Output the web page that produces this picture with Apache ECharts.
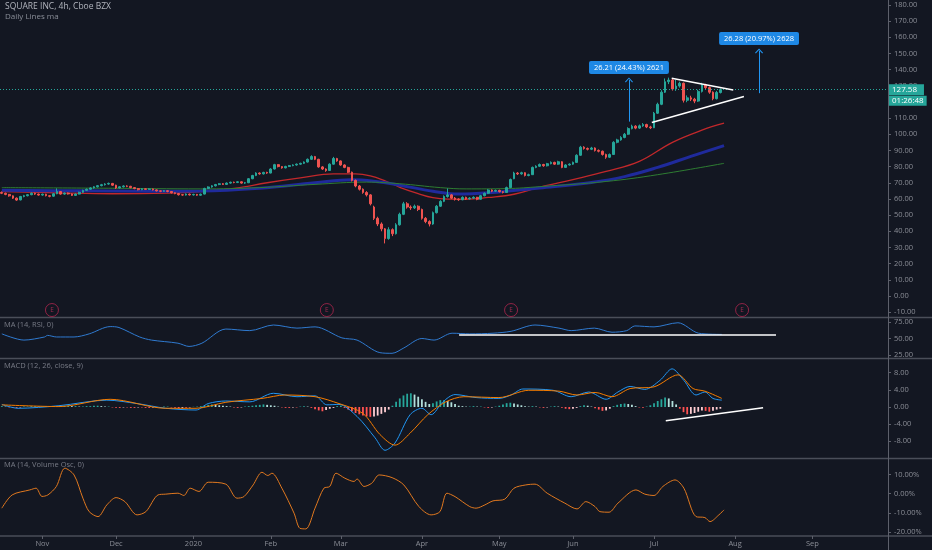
<!DOCTYPE html>
<html><head><meta charset="utf-8">
<script src="https://cdn.jsdelivr.net/npm/echarts@6/dist/echarts.min.js"></script>
<style>html,body{margin:0;padding:0;background:#131722;}#c{width:932px;height:550px;}</style>
</head><body><div id="c"></div>
<script>
// ---------- axis ticks ----------
const monthTickIdx = [11, 31, 52, 73, 92, 114, 135, 155, 177, 199, 220];
const monthLabels = ['Nov', 'Dec', '2020', 'Feb', 'Mar', 'Apr', 'May', 'Jun', 'Jul', 'Aug', 'Sep'];
const priceTicks = [-10, 0, 10, 20, 30, 40, 50, 60, 70, 80, 90, 100, 110, 120, 130, 140, 150, 160, 170, 180];
const rsiTicks = [25, 50, 75];
const macdTicks = [-8, -4, 0, 4, 8];
const oscTicks = [-20, -10, 0, 10];

// ---------- price candles: [open, close, low, high], one per trading day ----------
const candles = [
[64.0,63.5,63.0,64.6],[63.5,62.8,62.3,63.9],[62.8,61.9,61.4,63.1],[61.9,60.5,60.0,62.2],[60.5,59.3,58.8,60.9],
[59.4,61.5,59.1,61.9],[61.5,62.0,61.0,62.5],[62.0,62.6,61.6,63.0],[62.6,63.5,62.3,64.0],[63.5,63.0,62.5,63.9],
[63.0,62.4,62.0,63.3],[62.4,62.9,62.0,63.3],[62.9,62.0,61.6,63.2],[62.0,61.6,61.0,62.4],[61.7,63.2,61.4,63.6],
[63.2,64.6,62.9,66.5],[64.6,63.0,62.6,64.9],[63.0,63.6,62.6,64.0],[63.6,63.1,62.7,64.0],[63.1,62.2,61.8,63.4],
[62.2,63.0,61.9,63.4],[63.0,64.1,62.8,64.5],[64.1,65.3,63.8,65.7],[65.3,66.0,65.0,66.4],[66.0,66.8,65.6,67.2],
[66.8,67.5,66.4,67.9],[67.5,68.2,67.1,68.6],[68.2,68.8,67.8,69.3],[68.8,69.2,68.3,69.7],[69.2,69.6,68.8,70.1],
[69.6,68.5,68.1,69.9],[68.5,66.8,66.2,68.8],[66.8,67.5,66.5,67.9],[67.5,68.0,67.1,68.4],[68.0,67.8,67.3,68.4],
[67.8,67.0,66.6,68.1],[67.0,66.4,66.0,67.3],[66.4,65.7,65.3,66.7],[65.7,66.3,65.4,66.7],[66.3,65.9,65.5,66.6],
[65.9,66.2,65.6,66.6],[66.2,65.6,65.2,66.4],[65.6,65.0,64.6,65.9],[65.0,64.7,64.2,65.3],[64.7,65.1,64.4,65.5],
[65.1,64.6,64.1,65.4],[64.6,63.8,63.4,64.9],[63.8,63.3,62.9,64.1],[63.3,62.6,62.1,63.6],[62.6,62.4,62.0,62.9],
[62.4,63.0,62.1,63.4],[63.0,62.5,62.1,63.3],[62.5,62.8,62.1,63.2],[62.8,62.3,61.9,63.1],[62.3,62.9,62.0,63.3],
[63.0,66.5,62.8,66.9],[66.5,67.4,66.1,67.8],[67.4,68.1,67.0,68.5],[68.1,68.9,67.7,69.3],[68.9,69.4,68.5,69.8],
[69.4,69.0,68.6,69.8],[69.0,69.8,68.7,70.2],[69.8,70.3,69.4,70.7],[70.3,70.2,69.7,70.7],[70.2,70.6,69.8,71.0],
[70.6,69.8,69.4,70.9],[69.8,70.0,69.3,70.5],[70.0,72.5,69.8,72.9],[72.5,74.5,72.2,74.9],[74.5,76.0,74.1,76.5],
[76.0,75.5,75.0,76.4],[75.5,76.4,75.1,76.8],[76.4,76.0,75.5,76.8],[76.0,78.5,75.8,79.0],[78.5,81.2,78.2,81.7],
[81.2,80.0,79.5,81.5],[80.0,79.2,78.7,80.3],[79.2,80.1,78.9,80.5],[80.1,80.6,79.7,81.0],[80.6,81.0,80.2,81.4],
[81.0,81.5,80.6,81.9],[81.5,82.0,81.1,82.4],[82.0,82.8,81.6,83.2],[82.8,84.5,82.5,85.0],[84.5,86.2,84.1,87.0],
[86.2,84.5,84.0,86.6],[84.5,79.8,79.3,84.8],[79.8,78.5,77.9,80.3],[78.5,77.5,76.8,78.9],[77.6,81.5,77.3,82.0],
[81.5,85.0,81.2,86.0],[85.0,83.5,83.0,85.4],[83.5,81.0,80.5,83.8],[81.0,79.5,79.0,81.4],[79.5,76.5,76.0,79.9],
[76.5,71.5,70.8,76.9],[71.5,68.0,67.2,72.0],[68.0,66.0,65.2,68.6],[66.0,64.0,63.2,66.5],[64.0,62.5,61.5,64.8],
[62.5,57.0,56.0,63.0],[55.0,48.0,47.0,55.8],[48.0,44.5,43.2,49.0],[44.5,41.5,40.0,45.5],[41.5,35.5,32.5,42.0],
[35.5,41.0,34.8,42.5],[41.0,38.5,37.0,41.8],[38.5,44.0,38.0,45.0],[44.0,50.5,43.5,51.5],[50.5,57.0,50.0,58.2],
[57.0,55.0,54.0,58.0],[55.0,54.5,53.2,56.0],[54.5,55.5,53.8,56.5],[55.5,53.5,52.5,56.0],[53.5,48.0,47.2,54.0],
[48.0,46.0,45.0,48.8],[46.0,44.5,43.0,46.8],[44.5,51.5,44.0,52.2],[51.5,55.5,51.0,56.2],[55.5,58.5,55.0,59.2],
[58.5,61.5,58.0,62.2],[61.5,62.5,60.8,66.5],[62.5,60.5,60.0,63.0],[60.5,59.8,59.0,61.2],[59.8,59.5,58.8,60.4],
[59.5,61.0,59.2,61.6],[61.0,60.0,59.4,61.4],[60.0,60.5,59.6,61.1],[60.5,61.0,60.0,61.6],[61.0,59.8,59.2,61.3],
[59.8,62.0,59.5,62.5],[62.0,63.5,61.6,64.0],[63.5,65.5,63.1,66.0],[65.5,64.8,64.2,65.9],[64.8,65.3,64.4,65.8],
[65.3,64.5,64.0,65.7],[64.5,64.0,63.4,64.9],[64.0,67.0,63.8,67.6],[67.0,72.0,66.8,72.6],[72.5,76.0,72.2,76.8],
[76.0,75.5,74.8,76.6],[75.5,76.2,75.0,76.8],[76.2,74.5,73.9,76.5],[74.5,75.0,74.0,75.6],[75.0,79.5,74.8,80.0],
[79.5,80.2,79.0,80.8],[80.2,81.3,79.8,81.9],[81.3,80.5,79.9,81.7],[80.5,81.8,80.1,82.3],[81.8,82.6,81.4,83.2],
[82.6,81.5,81.0,83.0],[81.5,83.0,81.1,83.6],[83.0,79.5,79.0,83.3],[79.5,81.0,79.1,81.5],[81.0,81.5,80.6,82.0],
[81.5,82.6,81.1,83.1],[82.6,87.0,82.3,87.6],[87.0,92.0,86.7,92.8],[92.0,91.2,90.5,92.6],[91.2,90.7,90.0,91.8],
[90.7,91.5,90.2,92.2],[91.5,90.0,89.3,91.9],[90.0,89.5,88.8,90.6],[89.5,87.5,86.8,89.9],[87.5,85.8,84.8,88.0],
[85.8,87.5,85.3,88.1],[87.5,95.0,87.2,95.7],[95.0,96.5,94.4,97.2],[96.5,98.0,96.0,98.8],[98.0,100.0,97.5,100.8],
[100.0,103.5,99.6,104.3],[103.5,105.0,103.0,105.9],[105.0,103.8,103.1,105.6],[103.8,105.2,103.3,106.0],[105.2,106.0,104.6,106.9],
[106.0,104.5,103.8,106.5],[104.5,104.0,103.2,105.2],[104.0,113.0,103.8,113.8],[113.0,118.5,112.5,119.5],[118.5,126.0,118.0,127.2],
[126.0,132.5,125.5,134.5],[132.5,133.5,131.0,135.0],[133.5,128.0,127.0,134.2],[128.0,129.8,126.8,133.6],[129.8,131.5,128.8,132.5],
[131.5,121.0,119.6,132.0],[121.0,122.5,119.8,124.0],[122.5,121.7,120.5,123.8],[121.7,120.5,119.2,122.5],[120.5,126.5,120.0,127.5],
[126.5,130.5,125.8,131.8],[130.5,128.8,127.8,131.2],[128.8,126.0,125.0,129.5],[126.0,122.0,121.0,126.5],[122.0,125.8,121.5,126.8],
[125.8,127.58,125.2,128.3]
];

// ---------- daily moving averages: [dayIndex, value] ----------
const maRed = [[0,64.6],[15,63.8],[30,63.2],[45,63.6],[54,64.6],[63,66.5],[72,70],[81,73],[90,75.5],[96,75.5],[100,74.3],[104,71.2],[108,67.2],[113,63.3],[117,60.8],[121,59.9],[126,59.8],[132,60.9],[139,62.9],[146,67.3],[155,72],[164,77],[173,83.2],[182,95],[190,102.5],[196,106.8]];
const maBlue = [[0,65.4],[20,65.0],[40,64.8],[54,64.9],[70,66.6],[85,70],[95,71.8],[102,70.6],[108,68.5],[117,64.8],[124,63.0],[132,63.8],[146,66.8],[160,70.2],[169,73.8],[178,79.5],[187,86.3],[196,93]];
const maGreen = [[0,67.0],[30,66.6],[54,66.2],[70,67],[85,69],[99,70.4],[108,69.4],[119,67],[126,66.2],[137,66.4],[146,67.6],[164,70.8],[178,75],[196,82]];

// ---------- RSI moving average ----------
const rsiMA = [[0,57],[6,47.6],[11.6,52.3],[12.4,54.7],[14.8,52.3],[19.6,52.3],[23.7,57],[29.4,68],[31.8,66.6],[37.4,52.3],[40.6,47.6],[47.8,42.9],[50.8,38],[54.3,42.9],[60.8,64.3],[67.3,61.9],[73.7,70.4],[80.1,65.7],[85,67.6],[92.3,50.9],[96.4,47.6],[102.6,28.6],[105.9,27.6],[109.1,35.7],[114,50],[117.3,47.6],[122.2,58],[127,57],[133.3,58],[138.2,60.9],[144.7,70.4],[151.2,65.7],[154.5,61.9],[160.8,65.7],[165.6,59.5],[169.6,61.9],[171.8,69],[177,67.6],[183.5,73.8],[189.1,58],[195.4,56.2]];

// ---------- MACD ----------
const macdLine = [[0,0.6],[4.4,-0.3],[15.5,0.3],[28.5,1.6],[36.7,0.8],[44.5,-0.3],[52.7,-0.7],[56,0.8],[60.8,1.4],[67.3,1.2],[73.7,3.2],[80.1,2.4],[85,2.6],[88.2,0.5],[91.5,0.6],[96.4,-2.2],[101.3,-7.2],[104,-10.1],[106.7,-8.4],[110.8,-1.8],[114,-0.3],[116.5,-1.8],[119.7,1.2],[123,2.9],[128.7,2.2],[134.9,2.0],[138.2,2.8],[141.4,4.2],[149.6,3.9],[154.5,2.4],[159.3,3.5],[164,1.8],[167.2,3.5],[170.5,4.8],[174.5,4.1],[178.6,6.2],[181.9,8.9],[185.1,6.2],[188.4,2.8],[190.8,3.5],[193,2.0],[195.4,1.6]];
const signalLine = [[0,0.5],[15.5,0.1],[29.4,1.8],[44.5,-0.3],[52.7,-0.3],[60.8,1.1],[70.6,2.0],[76.8,2.8],[85,2.4],[91.5,0.8],[98,-1.5],[102.6,-6.4],[106.7,-8.9],[110.8,-6.1],[115.6,-1.8],[120.5,1.2],[125.4,2.4],[134.9,2.2],[143,3.9],[151.2,3.7],[156.1,2.8],[161,3.4],[165.6,2.4],[170.5,4.3],[177,4.7],[183.5,7.5],[187.6,4.3],[190.8,3.7],[195.4,2.0]];
const macdHist = [
0.2,0.1,-0.1,-0.2,-0.2,-0.1,0.1,0.1,0.2,0.2,
0.1,0.1,0.2,0.2,0.1,0.1,0.2,0.3,0.3,0.2,
0.2,0.1,0.1,0.2,0.2,0.3,0.3,0.2,0.1,0.1,
-0.1,-0.2,-0.2,-0.1,-0.1,-0.2,-0.2,-0.1,-0.1,-0.2,
-0.2,-0.1,-0.1,-0.1,0.1,0.1,-0.1,-0.2,-0.3,-0.2,
-0.2,-0.1,0.05,0.1,0.2,0.3,0.5,0.6,0.5,0.4,
0.3,0.2,0.1,-0.1,-0.2,-0.1,0.1,0.2,0.3,0.4,
0.5,0.6,0.5,0.4,0.3,0.1,-0.1,-0.2,-0.2,-0.1,
-0.1,0.1,0.2,0.1,-0.2,-0.5,-0.8,-1.0,-0.7,-0.4,
-0.2,0.2,0.3,-0.2,-0.6,-1.0,-1.4,-1.7,-2.0,-2.2,
-2.3,-2.2,-2.0,-1.6,-1.2,-0.6,0.3,1.2,2.0,2.7,
3.1,3.2,2.9,2.4,1.8,1.2,0.7,0.9,1.3,1.6,
1.6,1.4,1.1,0.7,0.3,0.2,0.1,0.1,0.2,0.1,
0.1,-0.1,-0.2,-0.1,0.1,0.3,0.6,0.9,1.0,0.8,
0.6,0.4,0.2,0.1,0.2,0.1,-0.1,-0.2,-0.1,0.1,
0.2,0.1,-0.2,-0.4,-0.5,-0.4,-0.2,0.2,0.4,0.3,
0.1,-0.3,-0.6,-0.9,-0.8,-0.4,0.2,0.5,0.7,0.8,
0.7,0.5,0.2,-0.1,-0.2,0.1,0.4,0.9,1.4,1.8,
2.2,2.0,1.4,0.6,-0.4,-1.2,-1.7,-1.6,-1.4,-1.1,
-0.8,-0.9,-1.1,-0.9,-0.6,-0.4
];

// ---------- Volume oscillator MA ----------
const volOsc = [[0,-7.6],[2.8,-0.7],[7.6,1.9],[9.3,2.8],[10.9,-1.5],[12.5,-0.7],[14.8,3.7],[17.1,13.2],[19.6,9.7],[22,-2.4],[23.7,-9.4],[26.1,-12.0],[28.5,-5.9],[31,-2.1],[33.4,-4.2],[36.7,-11.1],[39.1,-9.4],[42.4,-0.7],[44.5,-0.3],[47.8,0.2],[49.4,-1.0],[51.1,2.8],[53.5,1.1],[56,5.9],[60.8,4.9],[63.8,-2.4],[65.7,-1.6],[68.2,4.5],[70.6,11.1],[72.2,9.4],[73.3,10.6],[76,2.8],[79.3,-10.2],[80.9,-18.1],[82.5,-18.4],[85,-7.6],[87.4,2.8],[89,3.7],[90.7,10.6],[93.1,8.0],[95.6,6.3],[96.4,7.6],[98.3,3.7],[100.4,5.4],[102.4,9.7],[105.9,8.3],[109.1,4.5],[113.2,-6.8],[116.5,-11.1],[118.9,-9.4],[120.8,0.2],[123,-1.6],[127,-6.8],[128.7,-7.6],[131.1,-5.9],[133.3,-3.8],[136.5,-2.9],[139,2.8],[142.2,4.5],[144.7,4.9],[148,0.2],[152.8,-5.0],[156.1,-8.0],[158.5,-4.2],[161,-6.8],[162.3,-9.4],[164.8,-9.7],[167.2,-5.0],[172.1,1.9],[174.5,-0.3],[177,-1.0],[179.4,3.7],[182.7,7.1],[185.1,2.8],[188.4,-12.0],[190.8,-12.5],[192.2,-14.6],[194.6,-11.1],[196,-8.5]];

// ---------- events and drawings ----------
const earningsIdx = [13.6, 88.2, 138.2, 200.9];
const earningsLevel = -8.7;
const lastPrice = 127.58;
const countdown = '01:26:48';
const measure1 = { idx: 170.2, from: 107.8, to: 133.6, text: '26.21 (24.43%) 2621' };
const measure2 = { idx: 205.5, from: 125.4, to: 151.5, text: '26.28 (20.97%) 2628' };
const triUpper = [[181.8, 134.6], [198.5, 127.4]];
const triLower = [[176.4, 107.2], [201.4, 123.3]];
const rsiTrend = [[124.1, 56], [210.1, 56]];
const macdTrend = [[180.2, -3.23], [206.6, -0.16]];

// ---------- chart ----------
const BG = '#131722', AX = '#8a8d96', SEP = '#4a4e59';
const FONT = 'Open Sans';
const grids = [
  { left: 0, right: 44, top: 0, height: 317 },
  { left: 0, right: 44, top: 318, height: 40 },
  { left: 0, right: 44, top: 359, height: 99 },
  { left: 0, right: 44, top: 459, height: 77 }
];
function xAx(k, show) {
  return {
    type: 'value', gridIndex: k, min: -0.5, max: 240.5, position: 'bottom',
    splitLine: { show: false }, axisLine: { show: false, onZero: false },
    axisTick: show ? { show: true, customValues: monthTickIdx, length: 3, lineStyle: { color: '#5d606b' } } : { show: false },
    axisLabel: show ? {
      show: true, customValues: monthTickIdx, color: AX, fontSize: 7.5, fontFamily: FONT, margin: 4,
      formatter: v => monthLabels[monthTickIdx.indexOf(Math.round(v))] || ''
    } : { show: false }
  };
}
function yAx(k, min, max, ticks, fmt) {
  return {
    type: 'value', gridIndex: k, position: 'right', min: min, max: max,
    splitLine: { show: false }, axisLine: { show: false, onZero: false },
    axisTick: { show: true, customValues: ticks, length: 3, lineStyle: { color: '#5d606b' } },
    axisLabel: { customValues: ticks, color: AX, fontSize: 7.5, fontFamily: FONT, margin: 6, formatter: fmt }
  };
}
const chevron = 'path://M0,6 L5,0 L10,6 L9,7 L5,2 L1,7 Z';
function measureLine(m) {
  const lab = { show: true, position: 'end', distance: 6, formatter: m.text, color: '#fff', fontSize: 7.5, fontFamily: FONT,
                backgroundColor: '#1e88e5', padding: [3, 5, 2, 5], borderRadius: 2 };
  const ls = { color: '#2196f3', width: 1, type: 'solid' };
  return [
    { coord: [m.idx, m.from], symbol: 'none', lineStyle: ls, label: lab },
    { coord: [m.idx, m.to], symbol: chevron, symbolSize: [8, 5], lineStyle: ls, label: lab }
  ];
}
function whiteLine(pts) {
  const ls = { color: '#ffffff', width: 1.5, type: 'solid' };
  return [
    { coord: pts[0], symbol: 'none', lineStyle: ls, label: { show: false } },
    { coord: pts[1], symbol: 'none', lineStyle: ls, label: { show: false } }
  ];
}
const tagRich = {
  s: { fontSize: 1, lineHeight: 10, color: 'rgba(0,0,0,0)' },
  a: { backgroundColor: '#26a69a', color: '#fff', fontSize: 8, fontFamily: FONT, padding: [2, 7, 1, 3], lineHeight: 12 },
  b: { backgroundColor: '#26a69a', color: '#fff', fontSize: 8, fontFamily: FONT, padding: [1, 3, 1, 3], lineHeight: 10 }
};

const option = {
  backgroundColor: BG,
  animation: false,
  textStyle: { fontFamily: FONT },
  title: [
    { text: 'SQUARE INC, 4h, Cboe BZX', left: 5, top: 2, padding: 0, textStyle: { color: '#b2b5be', fontSize: 8.5, fontWeight: 'normal', fontFamily: FONT } },
    { text: 'Daily Lines ma', left: 5, top: 13, padding: 0, textStyle: { color: '#8a8e98', fontSize: 8, fontWeight: 'normal', fontFamily: FONT } },
    { text: 'MA (14, RSI, 0)', left: 4, top: 321, padding: 0, textStyle: { color: '#787b86', fontSize: 7.5, fontWeight: 'normal', fontFamily: FONT } },
    { text: 'MACD (12, 26, close, 9)', left: 4, top: 362, padding: 0, textStyle: { color: '#787b86', fontSize: 7.5, fontWeight: 'normal', fontFamily: FONT } },
    { text: 'MA (14, Volume Osc, 0)', left: 4, top: 461, padding: 0, textStyle: { color: '#787b86', fontSize: 7.5, fontWeight: 'normal', fontFamily: FONT } }
  ],
  grid: grids,
  xAxis: [xAx(0, false), xAx(1, false), xAx(2, false), xAx(3, true)],
  yAxis: [
    yAx(0, -13, 183, priceTicks, v => v.toFixed(2)),
    yAx(1, 20.5, 81, rsiTicks, v => v.toFixed(2)),
    yAx(2, -11.9, 11.2, macdTicks, v => v.toFixed(2)),
    yAx(3, -22.1, 18, oscTicks, v => v.toFixed(2) + '%')
  ],
  graphic: [
    { type: 'line', shape: { x1: 0, y1: 317.5, x2: 932, y2: 317.5 }, style: { stroke: SEP, lineWidth: 1.5 }, silent: true },
    { type: 'line', shape: { x1: 0, y1: 358.5, x2: 932, y2: 358.5 }, style: { stroke: SEP, lineWidth: 1.5 }, silent: true },
    { type: 'line', shape: { x1: 0, y1: 458.5, x2: 932, y2: 458.5 }, style: { stroke: SEP, lineWidth: 1.5 }, silent: true },
    { type: 'line', shape: { x1: 0, y1: 536, x2: 932, y2: 536 }, style: { stroke: SEP, lineWidth: 1.5 }, silent: true },
    { type: 'line', shape: { x1: 888.5, y1: 0, x2: 888.5, y2: 550 }, style: { stroke: '#5d606b', lineWidth: 1 }, silent: true }
  ],
  series: [
    { type: 'line', name: 'MA red', xAxisIndex: 0, yAxisIndex: 0, data: maRed, showSymbol: false, smooth: 0.4,
      lineStyle: { color: '#c2282b', width: 1.3 }, z: 2 },
    { type: 'line', name: 'MA blue', xAxisIndex: 0, yAxisIndex: 0, data: maBlue, showSymbol: false, smooth: 0.4,
      lineStyle: { color: '#1f2a9c', width: 3 }, z: 2 },
    { type: 'line', name: 'MA green', xAxisIndex: 0, yAxisIndex: 0, data: maGreen, showSymbol: false, smooth: 0.4,
      lineStyle: { color: '#2e7d32', width: 1 }, z: 2,
      markLine: {
        silent: true, animation: false, symbol: ['none', 'none'],
        data: [
          { yAxis: lastPrice, symbol: 'none', lineStyle: { color: '#26a69a', width: 1, type: [1, 2] },
            label: { show: true, position: 'end', distance: 1, formatter: '{s| }\n{a|' + lastPrice.toFixed(2) + '}\n{b|' + countdown + '}', rich: tagRich } },
          measureLine(measure1),
          measureLine(measure2),
          whiteLine(triUpper),
          whiteLine(triLower)
        ]
      }
    },
    { type: 'candlestick', name: 'SQ', xAxisIndex: 0, yAxisIndex: 0,
      data: candles.map((c, i) => [i, c[0], c[1], c[2], c[3]]),
      encode: { x: 0, y: [1, 2, 3, 4] }, barWidth: 2.2, z: 3,
      itemStyle: { color: '#26a69a', color0: '#ef5350', borderColor: '#26a69a', borderColor0: '#ef5350', borderWidth: 1 } },
    { type: 'scatter', name: 'Earnings', xAxisIndex: 0, yAxisIndex: 0,
      data: earningsIdx.map(i => [i, earningsLevel]), symbol: 'circle', symbolSize: 13, z: 4,
      itemStyle: { color: BG, borderColor: '#b0274f', borderWidth: 1 },
      label: { show: true, position: 'inside', formatter: 'E', color: '#c2305a', fontSize: 6.5, fontFamily: FONT } },
    { type: 'line', name: 'RSI MA', xAxisIndex: 1, yAxisIndex: 1, data: rsiMA, showSymbol: false, smooth: 0.3,
      lineStyle: { color: '#2f7ad0', width: 1 },
      markLine: { silent: true, animation: false, symbol: ['none', 'none'], data: [whiteLine(rsiTrend)] } },
    { type: 'bar', name: 'Histogram', xAxisIndex: 2, yAxisIndex: 2, barWidth: 1.8,
      data: macdHist.map((v, i) => [i, v]),
      itemStyle: {
        color: p => {
          const i = p.dataIndex, v = macdHist[i], prev = i > 0 ? macdHist[i - 1] : 0;
          if (v >= 0) return v >= prev ? '#26a69a' : '#b2dfdb';
          return v <= prev ? '#ff5252' : '#ffcdd2';
        }
      } },
    { type: 'line', name: 'MACD', xAxisIndex: 2, yAxisIndex: 2, data: macdLine, showSymbol: false, smooth: 0.3,
      lineStyle: { color: '#2196f3', width: 1 } },
    { type: 'line', name: 'Signal', xAxisIndex: 2, yAxisIndex: 2, data: signalLine, showSymbol: false, smooth: 0.3,
      lineStyle: { color: '#f57c00', width: 1 },
      markLine: { silent: true, animation: false, symbol: ['none', 'none'], data: [whiteLine(macdTrend)] } },
    { type: 'line', name: 'Volume Osc MA', xAxisIndex: 3, yAxisIndex: 3, data: volOsc, showSymbol: false, smooth: 0.3,
      lineStyle: { color: '#e0781f', width: 1 } }
  ]
};
const chart = echarts.init(document.getElementById('c'), null, { renderer: 'canvas' });
chart.setOption(option);
</script>
</body></html>
